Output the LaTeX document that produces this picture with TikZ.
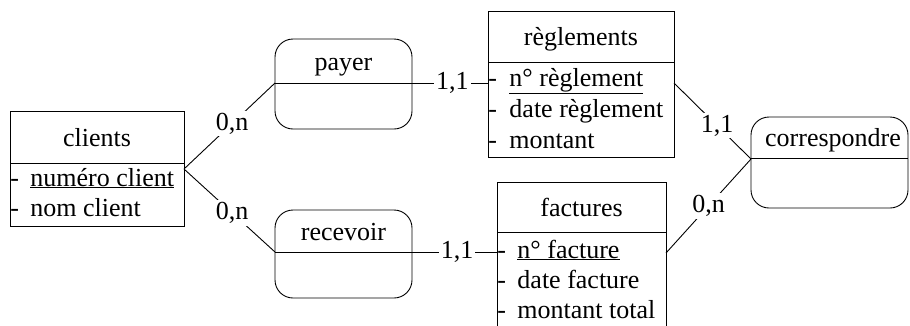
\documentclass[tikz,border=0pt]{standalone}
\usepackage{fontspec}
\setmainfont{Liberation Serif}
\begin{document}
\begin{tikzpicture}[x=1pt,y=-1pt,line width=0.9pt,
  font=\fontsize{26}{30}\selectfont,
  ent/.style={draw,rectangle,inner sep=0pt},
  rel/.style={draw,rectangle,rounded corners=18pt,inner sep=0pt},
  ttl/.style={anchor=base,inner sep=0pt},
  attr/.style={anchor=base west,inner sep=0pt},
  card/.style={fill=white,inner sep=2pt}]
\useasboundingbox (0,0) rectangle (910,325);
\clip (0,0) rectangle (910,325);
% entities
\node[ent,minimum width=174,minimum height=115] (clients) at (97,168.5) {};
\draw (10,163) -- (184,163);
\node[ttl] (clientsT) at (97,146) {clients};
\node[attr] (c1d) at (10,186) {-};
\node[attr] (c1) at (30,186) {\underline{numéro client}};
\node[attr] (c2d) at (10,216) {-};
\node[attr] (c2) at (30,216) {nom client};

\node[ent,minimum width=186,minimum height=146] (regl) at (581,84) {};
\draw (488,62) -- (674,62);
\node[ttl] (reglT) at (581,45.5) {règlements};
\node[attr] (r1d) at (488,86) {-};
\node[attr] (r1) at (509,86) {\underline{n° règlement}};
\node[attr] (r2d) at (488,117) {-};
\node[attr] (r2) at (509,117) {date règlement};
\node[attr] (r3d) at (488,148) {-};
\node[attr] (r3) at (509,148) {montant};

\node[ent,minimum width=169,minimum height=160] (fact) at (581.5,262) {};
\draw (497,232) -- (666,232);
\node[ttl] (factT) at (581.5,216) {factures};
\node[attr] (f1d) at (497,258) {-};
\node[attr] (f1) at (517,258) {\underline{n° facture}};
\node[attr] (f2d) at (497,288) {-};
\node[attr] (f2) at (517,288) {date facture};
\node[attr] (f3d) at (497,318) {-};
\node[attr] (f3) at (517,318) {montant total};

% relations
\node[rel,minimum width=137,minimum height=90] (payer) at (343.5,84) {};
\draw (275,83) -- (412,83);
\node[ttl] (payerT) at (343.5,70) {payer};

\node[rel,minimum width=137,minimum height=88] (recev) at (343.5,254) {};
\draw (275,252) -- (412,252);
\node[ttl] (recevT) at (343.5,240) {recevoir};

\node[rel,minimum width=157,minimum height=91] (corr) at (829.5,162.5) {};
\draw (751,158) -- (908,158);
\node[ttl] (corrT) at (833,146.5) {correspondre};

% link points
\coordinate (clL) at (184,169);
\coordinate (payL) at (275,83);
\coordinate (payR) at (412,83);
\coordinate (regL) at (488,83);
\coordinate (regR) at (674,83);
\coordinate (recL) at (275,252);
\coordinate (recR) at (412,252);
\coordinate (facL) at (497,252);
\coordinate (facR) at (666,253);
\coordinate (corL) at (751,159);

% connectors
\draw (clL) -- node[card,pos=0.53] (k1) {0,n} (payL);
\draw (clL) -- node[card,pos=0.53] (k2) {0,n} (recL);
\draw (payR) -- node[card,pos=0.53] (k3) {1,1} (regL);
\draw (recR) -- node[card,pos=0.53] (k4) {1,1} (facL);
\draw (regR) -- node[card,pos=0.56] (k5) {1,1} (corL);
\draw (facR) -- node[card,pos=0.5] (k6) {0,n} (corL);
\end{tikzpicture}
\end{document}
